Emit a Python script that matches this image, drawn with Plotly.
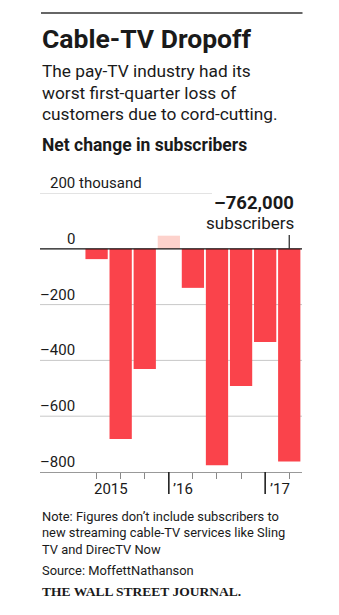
import plotly.graph_objects as go

# ---- data ----
quarters = ["Q1 2015", "Q2 2015", "Q3 2015", "Q4 2015",
            "Q1 2016", "Q2 2016", "Q3 2016", "Q4 2016", "Q1 2017"]
net_change = [-37, -682, -431, 47, -140, -776, -492, -334, -762]  # thousands
y_ticks = [200, 0, -200, -400, -600, -800]
y_tick_labels = ["200 thousand", "0", "–200", "–400", "–600", "–800"]
year_labels = ["2015", "’16", "’17"]
year_start_idx = [3, 7]  # quarters where long tick marks sit

W, H = 339, 615
ML, MR, MT, MB = 40, 37, 193, 143
PW, PH = W - ML - MR, H - MT - MB

def px(x):
    return (x - ML) / PW

def py(y):
    return (H - MB - y) / PH

RED = "#fa434b"
PINK = "#fdd2cc"
TXT = "#1a1a1a"
SANS = "Roboto, Arial, sans-serif"

xs = list(range(len(quarters)))
colors = [PINK if v > 0 else RED for v in net_change]

fig = go.Figure()
fig.add_trace(go.Bar(x=xs, y=net_change, marker=dict(color=colors, line=dict(width=0)),
                     hovertext=quarters, showlegend=False))

shapes = []
# gridlines
for v in y_ticks:
    if v == -800:
        continue
    if v == 0:
        shapes.append(dict(type="line", xref="paper", yref="y", x0=0, x1=1, y0=v, y1=v,
                           line=dict(color="#111", width=1.2), layer="above"))
    elif v == 200:
        shapes.append(dict(type="line", xref="paper", yref="y", x0=0, x1=px(212), y0=v, y1=v,
                           line=dict(color="#c8c8c8", width=1), layer="below"))
    else:
        shapes.append(dict(type="line", xref="paper", yref="y", x0=0, x1=1, y0=v, y1=v,
                           line=dict(color="#c8c8c8", width=1), layer="below"))
# long year ticks
for i in year_start_idx:
    shapes.append(dict(type="line", xref="x", yref="paper", x0=i, x1=i, y0=0, y1=-22 / PH,
                       line=dict(color="#222", width=1.6)))
# callout tick on last bar
last = len(net_change) - 1
shapes.append(dict(type="line", xref="x", yref="paper", x0=last, x1=last,
                   y0=py(248.5), y1=py(235), line=dict(color="#222", width=1.2)))
# top rule
shapes.append(dict(type="line", xref="paper", yref="paper", x0=px(41), x1=px(302.5),
                   y0=py(13), y1=py(13), line=dict(color="#333", width=1.3)))

ann = []
def text(x, y, s, size, bold=False, anchor="left", font=SANS, color=TXT):
    ann.append(dict(xref="paper", yref="paper", x=px(x), y=py(y), text=("<b>%s</b>" % s) if bold else s,
                    showarrow=False, xanchor=anchor, yanchor="middle",
                    font=dict(family=font, size=size, color=color)))

text(40, 39, "Cable-TV Dropoff", 26.5, bold=True)
text(40, 71, "The pay-TV industry had its", 17.3)
text(40, 92.7, "worst first-quarter loss of", 17.3)
text(40, 114.3, "customers due to cord-cutting.", 17.3)
text(40, 145.3, "Net change in subscribers", 17.5, bold=True)

# y tick labels
for v, lab in zip(y_ticks, y_tick_labels):
    if v == 200:
        ann.append(dict(xref="paper", yref="y", x=px(48), y=v, text=lab, showarrow=False,
                        xanchor="left", yanchor="middle", yshift=10,
                        font=dict(family=SANS, size=15, color=TXT)))
    else:
        ann.append(dict(xref="paper", yref="y", x=px(77), y=v, text=lab, showarrow=False,
                        xanchor="right", yanchor="middle", yshift=10,
                        font=dict(family=SANS, size=15, color=TXT)))

# year labels
ann.append(dict(xref="x", yref="paper", x=0.6, y=py(489), text=year_labels[0], showarrow=False,
                xanchor="center", yanchor="middle", font=dict(family=SANS, size=15, color=TXT)))
for lab, i in zip(year_labels[1:], year_start_idx):
    ann.append(dict(xref="x", yref="paper", x=i + 0.1, y=py(489), text=lab, showarrow=False,
                    xanchor="left", yanchor="middle", font=dict(family=SANS, size=15, color=TXT)))

# callout
text(296, 203, "–{:,}".format(-net_change[last] * 1000), 18.5, bold=True, anchor="right")
text(296, 223.3, "subscribers", 17, anchor="right")

# footnotes
text(40, 516.7, "Note: Figures don’t include subscribers to", 12.9)
text(40, 532.7, "new streaming cable-TV services like Sling", 12.9)
text(40, 549, "TV and DirecTV Now", 12.9)
text(40, 570, "Source: MoffettNathanson", 12.9)
text(40, 591.7, "THE WALL STREET JOURNAL.", 13.5, bold=True, font="Liberation Serif, serif")

fig.update_layout(
    width=W, height=H, margin=dict(l=ML, r=MR, t=MT, b=MB, pad=0),
    paper_bgcolor="white", plot_bgcolor="white",
    bargap=0.075, shapes=shapes, annotations=ann,
    xaxis=dict(range=[-2.35, 8.53], tickvals=xs, ticks="outside", ticklen=6, tickwidth=1,
               tickcolor="#888", showticklabels=False, showline=True, linecolor="#999",
               linewidth=1, showgrid=False, zeroline=False, fixedrange=True),
    yaxis=dict(range=[-800, 200], showticklabels=False, showgrid=False, zeroline=False,
               fixedrange=True),
)
fig.write_html("out.html", config={"displayModeBar": False})
